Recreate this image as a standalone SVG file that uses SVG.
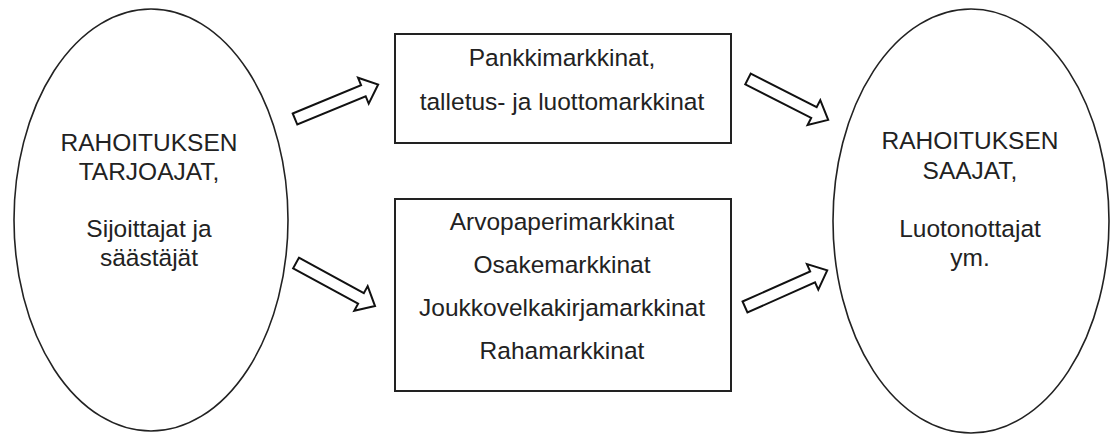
<svg xmlns="http://www.w3.org/2000/svg" width="1110" height="436" viewBox="0 0 1110 436">
<style>
.shape{fill:#fff;stroke:#222;stroke-width:1.6}
.box{fill:#fff;stroke:#222;stroke-width:2}
.arr{fill:#fff;stroke:#111;stroke-width:2;stroke-linejoin:miter}
text{font-family:"Liberation Sans",Arial,sans-serif;font-size:24.5px;fill:#222;text-anchor:middle}
</style>
<defs>
<polygon id="blk" points="0,-6 74,-6 74,-14 90,0 74,14 74,6 0,6"/>
</defs>
<g id="tarjoajat">
<ellipse class="shape" cx="151" cy="220" rx="137" ry="211"/>
<text x="149" y="151">RAHOITUKSEN</text>
<text x="149" y="180">TARJOAJAT,</text>
<text x="149" y="237">Sijoittajat ja</text>
<text x="149" y="266">säästäjät</text>
</g>
<g id="pankkimarkkinat">
<rect class="box" x="395" y="34" width="336" height="109"/>
<text x="562" y="66">Pankkimarkkinat,</text>
<text x="562" y="110">talletus- ja luottomarkkinat</text>
</g>
<g id="arvopaperimarkkinat">
<rect class="box" x="395" y="199" width="336" height="192"/>
<text x="562" y="230">Arvopaperimarkkinat</text>
<text x="562" y="273">Osakemarkkinat</text>
<text x="562" y="316">Joukkovelkakirjamarkkinat</text>
<text x="562" y="359">Rahamarkkinat</text>
</g>
<g id="saajat">
<ellipse class="shape" cx="971" cy="221" rx="138" ry="212"/>
<text x="970" y="149">RAHOITUKSEN</text>
<text x="970" y="179">SAAJAT,</text>
<text x="970" y="237">Luotonottajat</text>
<text x="970" y="266">ym.</text>
</g>
<g id="connectors">
<use href="#blk" class="arr" transform="translate(295,119) rotate(-22.5)"/>
<use href="#blk" class="arr" transform="translate(296,263) rotate(28.6)"/>
<use href="#blk" class="arr" transform="translate(748,79) rotate(27)"/>
<use href="#blk" class="arr" transform="translate(745,307) rotate(-24)"/>
</g>
</svg>
